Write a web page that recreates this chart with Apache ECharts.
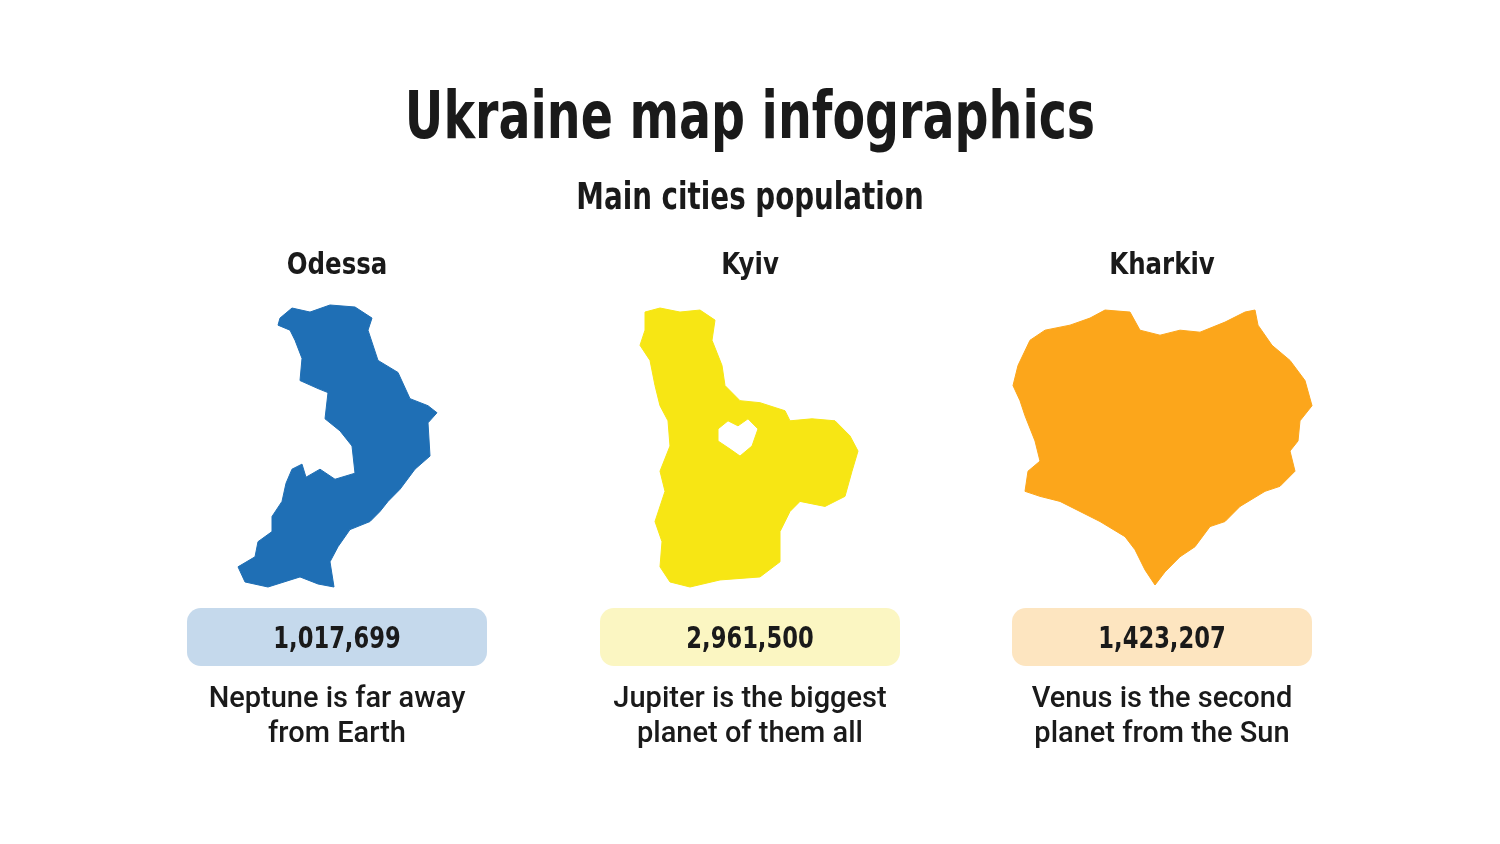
<!DOCTYPE html>
<html><head><meta charset="utf-8">
<script src="https://cdn.jsdelivr.net/npm/echarts@6/dist/echarts.min.js"></script>
<style>html,body{margin:0;padding:0;background:#fff}#c{width:1500px;height:844px}</style>
</head><body><div id="c"></div>
<script>
const cities = ['Odessa', 'Kyiv', 'Kharkiv'];
const populations = ['1,017,699', '2,961,500', '1,423,207'];
const descriptions = ['Neptune is far away\nfrom Earth', 'Jupiter is the biggest\nplanet of them all', 'Venus is the second\nplanet from the Sun'];
const mapColors = ['#1f6fb5', '#f7e614', '#fca61b'];
const pillColors = ['#c5d9ec', '#fbf6c2', '#fde5c0'];
const centersX = [337, 750, 1162];

// approximate region outlines (x, y in drawing units)
const odessaShape = [[280,318],[292,308],[310,312],[330,305],[355,307],[372,318],[368,330],[378,360],[398,372],[410,398],[428,405],[437,412],[428,422],[430,455],[415,468],[400,488],[388,500],[380,510],[370,520],[350,528],[338,545],[330,560],[334,585],[318,582],[300,575],[268,585],[245,580],[238,565],[255,555],[258,540],[272,530],[272,515],[282,500],[286,482],[292,468],[302,463],[306,476],[320,468],[335,478],[355,472],[352,445],[340,430],[325,418],[328,392],[318,388],[300,380],[302,358],[295,340],[290,330],[278,325]];
const kyivShape = [[645,312],[660,308],[680,312],[700,310],[715,320],[712,340],[722,365],[725,385],[740,400],[760,402],[785,410],[790,420],[812,418],[835,420],[850,435],[858,450],[852,470],[845,495],[825,505],[800,500],[790,510],[780,530],[780,560],[760,575],[720,578],[690,585],[670,580],[660,565],[662,540],[655,520],[665,490],[660,470],[670,445],[668,420],[660,405],[655,385],[650,360],[640,345],[645,330]];
const kyivCityHole = [[718,440],[730,448],[740,455],[752,445],[758,428],[748,418],[738,425],[728,420],[718,428]];
const kharkivShape = [[1030,340],[1045,330],[1070,325],[1090,318],[1105,310],[1130,312],[1140,330],[1160,335],[1180,330],[1200,332],[1225,322],[1245,312],[1255,310],[1258,325],[1272,345],[1290,360],[1305,380],[1312,405],[1300,420],[1298,440],[1290,450],[1295,470],[1280,485],[1265,490],[1240,505],[1225,520],[1210,525],[1195,545],[1180,555],[1165,570],[1155,583],[1145,568],[1135,548],[1125,535],[1100,520],[1080,510],[1060,500],[1040,495],[1025,490],[1028,470],[1040,460],[1035,440],[1025,415],[1020,400],[1013,385],[1018,365]];

const toGeo = ring => { const r = ring.map(p => [p[0]/10, -p[1]/10]); r.push(r[0]); return r; };
const geojson = {type:'FeatureCollection', features:[
  {type:'Feature', properties:{name:'Odessa'}, geometry:{type:'Polygon', coordinates:[toGeo(odessaShape)]}},
  {type:'Feature', properties:{name:'Kyiv'}, geometry:{type:'Polygon', coordinates:[toGeo(kyivShape), toGeo(kyivCityHole)]}},
  {type:'Feature', properties:{name:'Kharkiv'}, geometry:{type:'Polygon', coordinates:[toGeo(kharkivShape)]}}
]};
echarts.registerMap('ua', geojson);

const cond = '"DejaVu Sans",sans-serif';
const graphics = [];
function narrowText(text, x, y, size, scale) {
  return {type:'group', x:x, y:y, scaleX:scale, scaleY:1,
    children:[{type:'text', x:0, y:0, style:{text:text, font:'bold '+size+'px '+cond, fill:'#1a1a1a', align:'center', verticalAlign:'middle'}}]};
}
cities.forEach((c, i) => {
  const cx = centersX[i];
  graphics.push(narrowText(c, cx, 266, 31, 0.79));
  graphics.push({type:'rect', shape:{x:cx-150, y:608, width:300, height:58, r:14}, style:{fill:pillColors[i]}});
  graphics.push(narrowText(populations[i], cx, 640, 31, 0.73));
  graphics.push({type:'text', x:cx, y:717, style:{text:descriptions[i], font:'500 29px Roboto', lineHeight:35, fill:'#1a1a1a', align:'center', verticalAlign:'middle'}});
});
graphics.push(narrowText('Ukraine map infographics', 750, 121, 66, 0.72));
graphics.push(narrowText('Main cities population', 750, 199, 37, 0.75));

const chart = echarts.init(document.getElementById('c'));
chart.setOption({
  backgroundColor:'#fff',
  series:[{
    type:'map', map:'ua', aspectScale:1, roam:false,
    left:238, top:305, width:1074, height:282,
    label:{show:false}, emphasis:{disabled:true}, select:{disabled:true},
    itemStyle:{borderWidth:0},
    data: cities.map((c,i)=>({name:c, value:i, itemStyle:{areaColor:mapColors[i], borderColor:mapColors[i], borderWidth:1}}))
  }],
  graphic: graphics
});
</script></body></html>
